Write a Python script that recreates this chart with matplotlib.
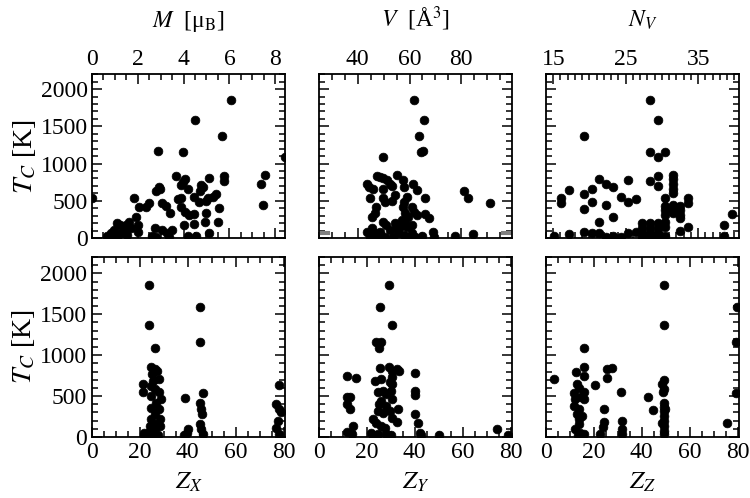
import matplotlib
matplotlib.use("Agg")
import matplotlib.pyplot as plt
from matplotlib.ticker import MultipleLocator
from matplotlib.transforms import blended_transform_factory

plt.rcParams['font.family'] = ['Liberation Serif', 'DejaVu Serif']
plt.rcParams['mathtext.fontset'] = 'stix'

# 上段: 磁気モーメント M, 体積 V, 価電子数 N_V と T_C
m_x = [6.07, 4.52, 5.67, 2.89, 3.96, 8.44, 7.54, 7.38, 7.45, 0.0, 5.75, 5.75, 3.66, 4.07, 3.97,
       5.11, 2.93, 2.98, 2.81, 3.90, 4.18, 4.77, 4.86, 4.73, 5.41, 5.29, 5.07, 4.44, 4.67, 3.75,
       3.87, 4.96, 1.82, 2.49, 2.37, 2.07, 3.04, 3.23, 3.39, 3.90, 4.07, 4.22, 4.44, 4.99, 5.56,
       5.51, 4.93, 4.46, 4.01, 1.93, 1.63, 1.48, 1.23, 1.11, 2.00, 2.00, 2.74, 3.07, 3.26, 3.36,
       5.11, 4.18, 4.55, 0.96, 0.81, 0.67, 1.26, 1.41, 1.70, 1.08, 2.62, 2.81, 0.89, 1.53, 3.50]
m_tc = [1857, 1589, 1366, 1165, 1152, 1085, 848, 732, 446, 540, 835, 763, 830, 790, 759,
        808, 687, 656, 634, 710, 652, 710, 679, 634, 585, 553, 531, 549, 487, 522,
        540, 495, 540, 464, 411, 411, 464, 428, 330, 420, 353, 308, 321, 330, 397,
        214, 210, 187, 170, 286, 210, 174, 174, 196, 170, 85, 129, 107, 62, 18,
        62, 31, 31, 107, 62, 31, 71, 107, 129, 18, 31, 18, 18, 40, 110]

v_x = [61.7, 65.5, 63.6, 64.5, 65.3, 49.7, 80.9, 82.7, 91.2, 47.5, 48.4, 49.9, 51.2, 52.5, 53.2,
       55.1, 57.3, 57.9, 43.5, 44.5, 45.7, 49.7, 44.8, 61.5, 62.8, 65.8, 54.2, 49.9, 53.2, 50.6,
       59.0, 57.7, 57.3, 60.9, 61.9, 58.1, 62.8, 47.1, 46.5, 45.4, 65.8, 67.4, 49.9, 50.8, 57.0,
       58.3, 56.4, 59.6, 43.5, 45.4, 46.7, 48.6, 52.5, 55.7, 57.7, 60.9, 62.2, 64.8, 68.9, 69.5,
       77.4, 84.4, 54.5, 53.8, 50.6, 59.6, 55.1, 59.0, 60.9, 48.0, 44.8]
v_tc = [1857, 1589, 1366, 1156, 1165, 1085, 638, 540, 469, 830, 821, 808, 777, 732, 696,
        844, 777, 687, 719, 687, 652, 652, 531, 732, 643, 540, 576, 540, 496, 487,
        545, 487, 420, 420, 353, 330, 308, 420, 330, 286, 321, 263, 219, 174, 241,
        196, 152, 286, 76, 129, 62, 85, 107, 62, 40, 62, 18, 31, 85, 18,
        31, 49, 196, 18, 18, 18, 129, 152, 174, 18, 18]
# V パネル両端の灰色の短い線 (T_C 値)
v_gray_tc = [49, 76]

nv_x = [28.33, 29.44, 19.23, 28.33, 29.44, 30.45, 29.44, 28.33, 29.44,
        31.51, 31.51, 31.51, 31.51, 31.51, 30.45, 30.45, 30.45, 30.45, 30.45,
        31.51, 31.51, 31.51, 32.47, 32.47, 32.47, 32.47, 33.53, 33.53, 33.53, 32.47,
        30.45, 29.44, 29.44, 29.44, 28.33, 28.33, 28.33, 27.28, 27.28, 27.28, 26.36, 25.34,
        16.10, 16.10, 17.16, 19.23, 20.29, 20.29, 19.23, 21.30, 22.31, 23.28, 22.22, 23.28,
        21.30, 24.33, 25.34, 25.34, 26.36, 39.69, 38.59, 38.59, 15.09, 17.16, 19.23, 20.29,
        21.30, 22.31, 23.28, 24.33, 27.28, 28.33, 29.44, 30.45]
nv_tc = [1857, 1589, 1366, 1156, 1085, 1156, 835, 763, 705,
         844, 799, 732, 665, 607, 531, 429, 375, 308, 219,
         442, 375, 330, 429, 375, 308, 263, 540, 464, 143, 98,
         152, 196, 129, 62, 196, 129, 62, 196, 129, 62, 85, 62,
         540, 473, 643, 585, 656, 487, 393, 795, 732, 687, 446, 281,
         210, 554, 786, 487, 522, 321, 170, 31, 31, 49, 85, 62,
         62, 18, 31, 18, 18, 18, 18, 31]

# 下段: 原子番号 Z_X, Z_Y, Z_Z と T_C
zx_x = [24.0, 24.0, 45.3, 45.3, 26.1, 21.3, 21.3, 39.0, 46.3, 78.2, 76.8, 78.2, 78.9, 77.5, 76.8,
        78.2, 45.3, 45.6, 45.8, 45.3, 45.6, 46.3, 40.0, 39.6, 38.6, 24.7, 26.1, 27.2, 25.1, 27.8,
        25.4, 24.7, 26.1, 27.9, 24.7, 28.9, 26.8, 24.7, 27.9, 26.1, 24.7, 28.2, 26.1, 21.9, 23.3,
        25.4, 27.5, 28.2, 24.4, 26.8, 21.9, 26.1]
zx_tc = [1861, 1370, 1587, 1157, 1088, 642, 544, 474, 540, 638, 401, 339, 307, 196, 115,
         33, 421, 339, 278, 155, 94, 33, 94, 53, 25, 851, 830, 810, 769, 708,
         687, 626, 585, 544, 503, 462, 421, 360, 339, 278, 217, 135, 94, 53, 53,
         33, 20, 217, 135, 155, 20, 20]

zy_x = [29.2, 25.3, 30.3, 24.0, 26.1, 25.1, 11.9, 15.3, 11.9, 13.1, 11.9, 13.1, 14.3, 11.9, 13.9,
        40.3, 40.0, 40.3, 40.3, 41.4, 42.2, 42.8, 50.1, 74.3, 78.9, 25.3, 29.2, 32.4, 33.3, 30.3,
        23.3, 26.1, 30.3, 29.6, 30.6, 24.7, 26.8, 30.0, 28.2, 30.3, 26.1, 25.0, 28.2, 33.1, 24.7,
        26.8, 29.6, 30.3, 32.4, 22.6, 24.0, 26.1, 27.5, 21.9, 24.7, 28.2, 30.0, 22.6]
zy_tc = [1861, 1587, 1370, 1166, 1157, 1088, 740, 720, 495, 495, 401, 348, 135, 65, 33,
         781, 560, 519, 278, 176, 53, 20, 25, 94, 25, 838, 851, 830, 806, 810,
         687, 708, 728, 667, 646, 544, 564, 564, 524, 462, 442, 401, 380, 339, 319,
         299, 319, 237, 188, 217, 176, 135, 115, 53, 33, 33, 20, 20]

zz_x = [49.4, 49.4, 79.6, 79.2, 79.2, 75.7, 15.7, 3.2, 12.6, 15.7, 15.7, 25.4, 27.5, 25.4, 20.3,
        31.3, 42.8, 44.6, 24.3, 24.3, 23.6, 22.6, 31.9, 31.7, 31.7,
        49.4, 48.6, 49.4, 49.0, 49.4, 49.4, 49.4, 49.4, 49.4, 49.4, 49.4, 49.4, 48.6, 49.7,
        11.8, 12.9, 13.9, 15.7, 15.7, 12.2, 14.7, 11.8, 13.9, 12.9, 15.0, 13.6, 13.6, 12.2,
        14.3, 15.7, 13.3]
zz_tc = [1861, 1370, 1595, 1157, 536, 168, 1088, 712, 789, 851, 740, 830, 843, 716, 638,
         552, 495, 327, 339, 184, 127, 33, 196, 94, 33,
         699, 646, 585, 544, 421, 372, 319, 258, 196, 135, 74, 33, 176, 339,
         536, 646, 593, 552, 462, 462, 495, 380, 339, 278, 258, 217, 155, 94,
         53, 33, 20]

top_titles = ["$M$  [μ$_\\mathrm{B}$]", "$V$  [Å$^3$]", "$N_V$"]
bottom_labels = ["$Z_X$", "$Z_Y$", "$Z_Z$"]

fig = plt.figure(figsize=(7.5, 4.98), dpi=100)
lefts = [0.1227, 0.4253, 0.728]
w = 0.257

top_data = [(m_x, m_tc), (v_x, v_tc), (nv_x, nv_tc)]
top_xlim = [(0, 8.42), (25, 99.5), (14.0, 40.6)]
top_minor = [0.5, 5, 1]
top_ticks = [[0, 2, 4, 6, 8], [40, 60, 80], [15, 25, 35]]

bot_data = [(zx_x, zx_tc), (zy_x, zy_tc), (zz_x, zz_tc)]


def style(ax):
    ax.tick_params(which='both', direction='in', top=True, right=True, width=1.1)
    ax.tick_params(which='major', length=7, labelsize=17)
    ax.tick_params(which='minor', length=4)
    for s in ax.spines.values():
        s.set_linewidth(1.3)
    ax.set_ylim(0, 2200)
    ax.yaxis.set_major_locator(MultipleLocator(500))
    ax.yaxis.set_minor_locator(MultipleLocator(100))


for i in range(3):
    ax = fig.add_axes([lefts[i], 0.522, w, 0.329])
    x, y = top_data[i]
    ax.plot(x, y, 'o', color='black', ms=6.3, mew=0.5)
    style(ax)
    ax.set_xlim(*top_xlim[i])
    ax.set_xticks(top_ticks[i])
    ax.xaxis.set_minor_locator(MultipleLocator(top_minor[i]))
    ax.tick_params(labeltop=True, labelbottom=False, pad=3)
    ax.set_title(top_titles[i], fontsize=17, pad=34)
    if i == 0:
        ax.set_ylabel("$T_C$ [K]", fontsize=20, labelpad=2)
    else:
        ax.tick_params(labelleft=False)
    if i == 1:
        tr = blended_transform_factory(ax.transAxes, ax.transData)
        for t in v_gray_tc:
            ax.plot([0, 0.05], [t, t], color='0.5', lw=1.5, transform=tr)
            ax.plot([0.95, 1], [t, t], color='0.5', lw=1.5, transform=tr)

    ax = fig.add_axes([lefts[i], 0.1225, w, 0.3614])
    x, y = bot_data[i]
    ax.plot(x, y, 'o', color='black', ms=6.3, mew=0.5)
    style(ax)
    ax.set_xlim(0, 80.5)
    ax.xaxis.set_major_locator(MultipleLocator(20))
    ax.xaxis.set_minor_locator(MultipleLocator(5))
    ax.set_xlabel(bottom_labels[i], fontsize=18, labelpad=6)
    if i == 0:
        ax.set_ylabel("$T_C$ [K]", fontsize=20, labelpad=2)
    else:
        ax.tick_params(labelleft=False)

fig.savefig("out.png", dpi=100)
